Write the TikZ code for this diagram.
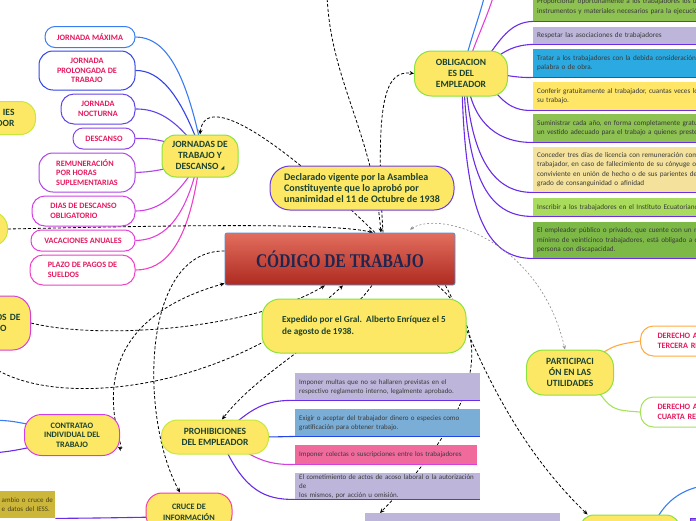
\documentclass[tikz,border=0pt]{standalone}
\usepackage{fontspec}
\setmainfont{Carlito}
\newfontfamily\titlefont{Liberation Serif}
\newfontfamily\symfont{DejaVu Sans}
\usetikzlibrary{positioning,calc,arrows.meta,shapes}
\pgfdeclarelayer{background}
\pgfsetlayers{background,main}

\definecolor{topicfill}{HTML}{FDE865}
\definecolor{topictext}{HTML}{1C4230}
\definecolor{subtext}{HTML}{E5195F}
\definecolor{notetext}{HTML}{3A3A3A}
\definecolor{limeline}{HTML}{8BE23C}
\definecolor{yellowline}{HTML}{C5E83A}
\definecolor{magentaline}{HTML}{D43FE0}
\definecolor{pinkline}{HTML}{F03FA8}
\definecolor{indigoline}{HTML}{6A3BE8}
\definecolor{violetline}{HTML}{6A2CE6}
\definecolor{blueline}{HTML}{2244E8}
\definecolor{orangeline}{HTML}{FFA940}
\definecolor{greenline}{HTML}{A6E25A}
\definecolor{jmaxline}{HTML}{3A7DF2}
\definecolor{jprolline}{HTML}{3444E6}
\definecolor{jnoctline}{HTML}{6444E8}
\definecolor{jdescline}{HTML}{8A44E8}
\definecolor{jremline}{HTML}{AE44E6}
\definecolor{jdiasline}{HTML}{D040E2}
\definecolor{jvacline}{HTML}{E440D8}
\definecolor{jplazoline}{HTML}{F040C4}
\definecolor{titletop}{HTML}{E26E5E}
\definecolor{titlebottom}{HTML}{AE2A20}
\definecolor{titleedge}{HTML}{5B8FD0}
\definecolor{titletext}{HTML}{1D2550}
\definecolor{lavender}{HTML}{BDB6DA}
\definecolor{steel}{HTML}{7BAED6}
\definecolor{rose}{HTML}{F06B9C}
\definecolor{leaf}{HTML}{8DC152}
\definecolor{sky}{HTML}{2BAAE2}
\definecolor{lemon}{HTML}{FFE666}
\definecolor{sand}{HTML}{F4E29C}
\definecolor{lightleaf}{HTML}{A9DC5C}
\definecolor{darkleaf}{HTML}{7DB947}
\definecolor{olivefill}{HTML}{CDB73A}
\definecolor{olivetext}{HTML}{4A4218}
\definecolor{plum}{HTML}{9B6BE8}

\tikzset{
  title/.style={draw=titleedge, line width=0.8pt, top color=titletop, bottom color=titlebottom,
    minimum width=230, minimum height=52, rounded corners=2pt, text=titletext,
    font=\titlefont\fontsize{15.5}{18}\selectfont\bfseries},
  topic/.style={draw=limeline, line width=1pt, fill=topicfill, rounded corners=14pt, align=center,
    text=topictext, font=\fontsize{9.5}{11}\selectfont\bfseries, inner sep=1pt},
  sub/.style={draw, line width=1pt, fill=white, rounded corners=10pt, align=center,
    text=subtext, font=\fontsize{8.2}{9.5}\selectfont\bfseries, inner sep=1pt},
  note/.style={anchor=north west, inner xsep=4pt, inner ysep=1pt, align=left, text=notetext,
    font=\fontsize{7.2}{9.5}\selectfont},
  branch/.style={line width=1.1pt},
  link/.style={line width=0.8pt, dash pattern=on 3pt off 2pt, -{Stealth[length=4.5pt,width=4pt]}},
  faintlink/.style={line width=0.6pt, black!45, dash pattern=on 2pt off 2pt,
    {Stealth[length=4pt,width=3.5pt]}-{Stealth[length=4pt,width=3.5pt]}}
}

\begin{document}
\begin{tikzpicture}[x=1pt,y=-1pt]
\useasboundingbox (0,0) rectangle (696,520);
\clip (0,0) rectangle (696,520);

% central topic
\node[title] (code) at (340,259) {\scalebox{1}[1.25]{CÓDIGO DE TRABAJO}};

% notes on the code
\node[topic, draw=indigoline, align=left, font=\fontsize{10}{11}\selectfont\bfseries,
  minimum width=184, minimum height=44, rounded corners=20pt] (vigente) at (362,188)
  {Declarado vigente por la Asamblea\\Constituyente que lo aprobó por\\unanimidad el 11 de Octubre de 1938};
\node[topic, align=left, font=\fontsize{9.2}{12}\selectfont\bfseries,
  minimum width=204, minimum height=54, rounded corners=18pt] (expedido) at (364,326)
  {Expedido por el Gral.\ \ Alberto Enríquez el 5\\de agosto de 1938.};

% jornadas
\node[topic, minimum width=76, minimum height=42] (jornadas) at (200,156)
  {JORNADAS DE\\TRABAJO Y\\DESCANSO {\symfont\fontsize{5}{5}\selectfont ◢}};
\node[sub, draw=jmaxline, minimum width=90, minimum height=21] (jmax) at (90,37) {JORNADA MÁXIMA};
\node[sub, draw=jprolline, minimum width=96, minimum height=39, rounded corners=14pt] (jprol) at (87,70.5) {JORNADA\\PROLONGADA DE\\TRABAJO};
\node[sub, draw=jnoctline, minimum width=74, minimum height=30, rounded corners=13pt] (jnoct) at (98,109) {JORNADA\\NOCTURNA};
\node[sub, draw=jdescline, minimum width=62, minimum height=21] (jdesc) at (104,138.5) {DESCANSO};
\node[sub, draw=jremline, align=left, minimum width=96, minimum height=39, rounded corners=14pt] (jrem) at (87,172.5) {REMUNERACIÓN\\POR HORAS\\SUPLEMENTARIAS};
\node[sub, draw=jdiasline, align=left, minimum width=103, minimum height=30, rounded corners=13pt] (jdias) at (83.5,211) {DIAS DE DESCANSO\\OBLIGATORIO};
\node[sub, draw=jvacline, minimum width=104, minimum height=21] (jvac) at (83,240.5) {VACACIONES ANUALES};
\node[sub, draw=jplazoline, align=left, minimum width=105, minimum height=30, rounded corners=13pt] (jplazo) at (82.5,270) {PLAZO DE PAGOS DE\\SUELDOS};

% topics cut by the left edge
\node[topic, draw=yellowline, align=right, text width=44, inner xsep=21, minimum height=33,
  anchor=east, rounded corners=15pt] (trabajador) at (36,118) {IES\hspace*{5pt}\\DOR};
\node[topic, draw=yellowline, minimum width=56, minimum height=34, anchor=east, rounded corners=16pt] (derechos) at (8,229) {};
\node[topic, draw=magentaline, align=right, text width=44, inner xsep=10, minimum height=54,
  anchor=east, rounded corners=18pt] (contratos) at (31,323) {OS DE\\O\hspace*{14pt}};
\node[topic, draw=magentaline, font=\fontsize{8.3}{9.5}\selectfont\bfseries, minimum width=95,
  minimum height=41, rounded corners=17pt] (contrato) at (72,435) {CONTRATAO\\INDIVIDUAL DEL\\TRABAJO};
\node[anchor=north west, fill=olivefill, inner xsep=1.5pt, inner ysep=0pt, text width=52,
  minimum height=27, align=left, text=olivetext, font=\fontsize{7}{9.5}\selectfont] (iess) at (0,491)
  {ambio o cruce de\\e datos del IESS.};
\node[topic, draw=pinkline, font=\fontsize{8.3}{11}\selectfont\bfseries, minimum width=86,
  minimum height=38, rounded corners=16pt] (cruce) at (189,512) {CRUCE DE\\INFORMACIÓN};

% prohibiciones
\node[topic, draw=yellowline, minimum width=107, minimum height=34, rounded corners=16pt] (prohibiciones) at (215,437) {PROHIBICIONES\\DEL EMPLEADOR};
\node[note, fill=lavender, text width=177, font=\fontsize{7}{9}\selectfont, minimum height=27] (ban1) at (295,373)
  {Imponer multas que no se hallaren previstas en el\\respectivo reglamento interno, legalmente aprobado.};
\node[note, fill=steel, text width=177, font=\fontsize{7}{9}\selectfont, minimum height=27] (ban2) at (295,409)
  {Exigir o aceptar del trabajador dinero o especies como\\gratificación para obtener trabajo.};
\node[note, fill=rose, text width=174, font=\fontsize{7}{9}\selectfont, minimum height=19] (ban3) at (295,445)
  {Imponer colectas o suscripciones entre los trabajadores};
\node[note, fill=lavender, text width=177, font=\fontsize{7}{9}\selectfont, minimum height=26] (ban4) at (295,473)
  {El cometimiento de actos de acoso laboral o la autorización de\\los mismos, por acción u omisión.};
\node[note, fill=lavender, text width=187, minimum height=20] (ban5) at (365,513) {};
\draw[violetline, line width=1.2pt] (ban1.south west) -- (ban1.south east);
\draw[blueline, line width=1.2pt] (ban2.south west) -- (ban2.south east);
\draw[magentaline, line width=1.2pt] (ban3.south west) -- (ban3.south east);
\draw[violetline, line width=1.2pt] (ban4.south west) -- (ban4.south east);

% obligaciones
\node[topic, minimum width=93, minimum height=45, rounded corners=17pt] (obligaciones) at (461,73.5) {OBLIGACION\\ES DEL\\EMPLEADOR};
\node[note, fill=leaf, text width=260, minimum height=29] (duty1) at (533,-8)
  {Proporcionar oportunamente a los trabajadores los útiles,\\instrumentos y materiales necesarios para la ejecución del};
\node[note, fill=lavender, text width=260, minimum height=17] (duty2) at (533,27)
  {Respetar las asociaciones de trabajadores};
\node[note, fill=sky, text width=260, minimum height=28] (duty3) at (533,49)
  {Tratar a los trabajadores con la debida consideración, no\\palabra o de obra.};
\node[note, fill=lemon, text width=260, minimum height=28] (duty4) at (533,82)
  {Conferir gratuitamente al trabajador, cuantas veces lo solicite,\\su trabajo.};
\node[note, fill=leaf, text width=260, minimum height=28] (duty5) at (533,114)
  {Suministrar cada año, en forma completamente gratuita,\\un vestido adecuado para el trabajo a quienes presten};
\node[note, fill=sand, text width=260, minimum height=45] (duty6) at (533,147)
  {Conceder tres días de licencia con remuneración completa\\trabajador, en caso de fallecimiento de su cónyuge o de\\conviviente en unión de hecho o de sus parientes dentro\\grado de consanguinidad o afinidad};
\node[note, fill=lightleaf, text width=260, minimum height=18] (duty7) at (533,198)
  {Inscribir a los trabajadores en el Instituto Ecuatoriano de};
\node[note, fill=darkleaf, text width=260, minimum height=36] (duty8) at (533,222)
  {El empleador público o privado, que cuente con un número\\mínimo de veinticinco trabajadores, está obligado a contratar,\\persona con discapacidad.};
\foreach \d in {duty1,duty2,duty3,duty4,duty5,duty6,duty7,duty8}
  \draw[violetline, line width=1.2pt] (\d.south west) -- (\d.south east);

% participacion
\node[topic, minimum width=87, minimum height=45, rounded corners=17pt] (utilidades) at (570,372.5) {PARTICIPACI\\ÓN EN LAS\\UTILIDADES};
\node[sub, draw=orangeline, anchor=west, align=left, text width=110, inner xsep=17, minimum height=30, rounded corners=13pt] (tercera) at (640,341)
  {DERECHO A\\TERCERA REMUNERACIÓN};
\node[sub, draw=greenline, anchor=west, align=left, text width=110, inner xsep=17, minimum height=30, rounded corners=13pt] (cuarta) at (640,412)
  {DERECHO A\\CUARTA REMUNERACIÓN};

% bottom right
\node[topic, minimum width=100, minimum height=30, rounded corners=14pt] (otro) at (630,530) {};
\node[anchor=north west, fill=plum, draw=violetline, minimum width=12, minimum height=14] (otronote) at (690,518) {};

% ends beyond the edges
\coordinate (offtop) at (327,-6);
\coordinate (offblue) at (485,-6);
\coordinate (offpink) at (494,-6);
\coordinate (offleft) at (-6,368);
\coordinate (offleftblue) at (-6,420);
\coordinate (offleftviolet) at (-6,453);
\coordinate (offright) at (702,486);

\begin{pgfonlayer}{background}
\clip (0,0) rectangle (696,520);
% jornadas branches
\draw[branch, jmaxline] ($(jornadas.center)+(1,-10)$) .. controls (185,70) and (165,37) .. (jmax.east);
\draw[branch, jprolline] ($(jornadas.center)+(-1,-10)$) .. controls (180,95) and (160,70) .. (jprol.east);
\draw[branch, jnoctline] ($(jornadas.center)+(-4,-9)$) .. controls (170,112) and (150,109) .. (jnoct.east);
\draw[branch, jdescline] ($(jornadas.center)+(-10,-6)$) .. controls (165,140) and (150,138) .. (jdesc.east);
\draw[branch, jremline] ($(jornadas.center)+(-10,6)$) .. controls (165,170) and (150,172) .. (jrem.east);
\draw[branch, jdiasline] ($(jornadas.center)+(-5,11)$) .. controls (175,200) and (155,211) .. (jdias.east);
\draw[branch, jvacline] ($(jornadas.center)+(-3,11)$) .. controls (183,225) and (160,240) .. (jvac.east);
\draw[branch, jplazoline] ($(jornadas.center)+(-1,11)$) .. controls (188,245) and (165,270) .. (jplazo.east);

% prohibiciones branches
\draw[branch, violetline] ($(prohibiciones.center)+(15,-9)$) .. controls (255,405) and (270,400) .. (ban1.south west);
\draw[branch, blueline] ($(prohibiciones.center)+(35,0)$) .. controls (270,437) .. (ban2.south west);
\draw[branch, magentaline] ($(prohibiciones.center)+(25,11)$) .. controls (260,462) and (275,465) .. (ban3.south west);
\draw[branch, violetline] ($(prohibiciones.center)+(10,11)$) .. controls (245,490) and (265,500) .. (ban4.south west);

% obligaciones branches
\draw[branch, jmaxline] ($(obligaciones.center)+(5,-15)$) .. controls (472,35) and (480,15) .. (offblue);
\draw[branch, jvacline] ($(obligaciones.center)+(9,-15)$) .. controls (478,35) and (488,15) .. (offpink);
\draw[branch, violetline] ($(obligaciones.center)+(24,-13)$) .. controls (500,40) and (510,22) .. (duty1.south west);
\draw[branch, violetline] ($(obligaciones.center)+(29,-11)$) .. controls (505,50) and (515,45) .. (duty2.south west);
\draw[branch, violetline] ($(obligaciones.center)+(34,0)$) .. controls (510,76) and (520,78) .. (duty3.south west);
\draw[branch, violetline] ($(obligaciones.center)+(29,12)$) .. controls (505,105) and (515,111) .. (duty4.south west);
\draw[branch, violetline] ($(obligaciones.center)+(7,12)$) .. controls (475,125) and (500,143) .. (duty5.south west);
\draw[branch, violetline] ($(obligaciones.center)+(5,12)$) .. controls (472,160) and (495,193) .. (duty6.south west);
\draw[branch, violetline] ($(obligaciones.center)+(3,12)$) .. controls (468,180) and (490,217) .. (duty7.south west);
\draw[branch, violetline] ($(obligaciones.center)+(1,12)$) .. controls (465,210) and (485,259) .. (duty8.south west);

% participacion branches
\draw[branch, orangeline] ($(utilidades.center)+(25,-15)$) .. controls (615,345) .. (tercera.west);
\draw[branch, greenline] ($(utilidades.center)+(25,15)$) .. controls (612,410) .. (cuarta.west);

% left and bottom branches
\draw[branch, jmaxline] (offleftblue) .. controls (12,421) .. ($(contrato.center)+(-35,-9)$);
\draw[branch, violetline] (offleftviolet) .. controls (12,451) .. ($(contrato.center)+(-35,11)$);
\draw[branch, violetline] (iess.south east) .. controls (100,518) .. ($(cruce.center)+(-30,5)$);
\draw[branch, jmaxline] ($(otro.north)+(28,2)$) .. controls (668,500) and (682,490) .. (offright);

% dashed relations
\draw[link] (offtop) .. controls (330,80) and (372,130) .. ($(code.north)+(41,0)$);
\draw[link] ($(code.north)+(43,0)$) .. controls (375,100) and (385,70) .. (obligaciones.west);
\draw[link] ($(code.north)+(35,0)$) .. controls (280,140) and (205,90) .. (jornadas.north);
\draw[link] (derechos.east) .. controls (150,226) and (330,222) .. ($(code.north)+(33,0)$);
\draw[link] ($(code.west)+(0,-8)$) .. controls (140,250) and (140,420) .. ($(cruce.north)+(-9,0)$);
\draw[link, {Stealth[length=4.5pt,width=4pt]}-{Stealth[length=4.5pt,width=4pt]}]
  ($(contrato.east)+(-2,12)$) .. controls (130,455) and (60,330) .. ($(code.south west)+(0,-2)$);
\draw[link] (contratos.east) .. controls (100,340) and (250,330) .. ($(code.south)+(-15,0)$);
\draw[link] (offleft) .. controls (60,410) and (230,390) .. ($(code.south)+(3,0)$);
\draw[link] ($(code.south)+(32,0)$) .. controls (340,330) and (260,370) .. ($(prohibiciones.north)+(7,0)$);
\draw[link] ($(code.south east)+(-18,0)$) .. controls (490,330) and (490,400) .. ($(ban5.north west)+(15,0)$);
\draw[link] ($(code.south east)+(-10,0)$) .. controls (470,330) and (500,430) .. ($(otro.north west)+(8,0)$);
\draw[faintlink] ($(code.north)+(70,-3)$) .. controls (440,210) and (540,240) .. ($(utilidades.north)+(-5,0)$);
\end{pgfonlayer}
\end{tikzpicture}
\end{document}
